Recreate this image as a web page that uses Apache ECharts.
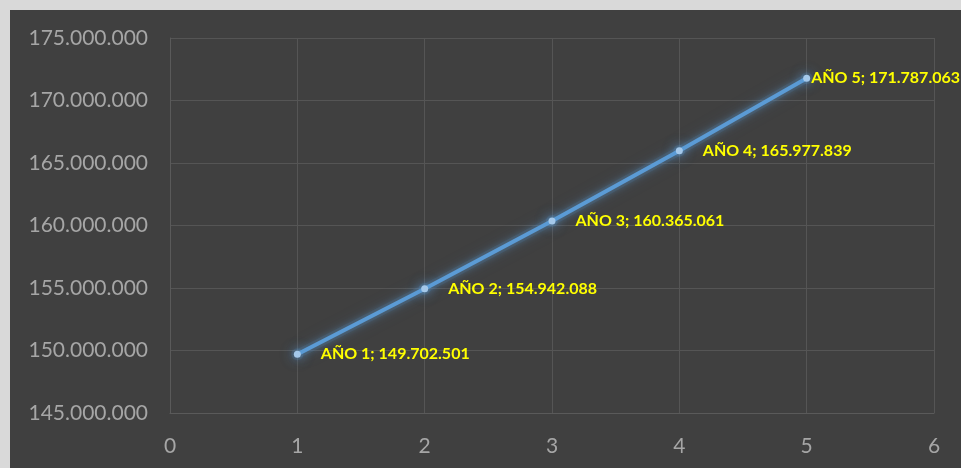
<!DOCTYPE html>
<html>
<head>
<meta charset="utf-8">
<script src="https://cdn.jsdelivr.net/npm/echarts@6/dist/echarts.min.js"></script>
<style>
  html, body { margin: 0; padding: 0; background: #d9d9d9; width: 961px; height: 468px; overflow: hidden; }
  #chart { position: absolute; left: 10px; top: 10px; width: 951px; height: 458px; background: #404040; }
</style>
</head>
<body>
<div id="chart"></div>
<script>
// Projected yearly totals
const years = [1, 2, 3, 4, 5];
const yearNames = ['AÑO 1', 'AÑO 2', 'AÑO 3', 'AÑO 4', 'AÑO 5'];
const totals = [149702501, 154942088, 160365061, 165977839, 171787063];

// Axis ranges
const xMin = 0, xMax = 6, xStep = 1;
const yMin = 145000000, yMax = 175000000, yStep = 5000000;

function fmtThousands(v) {
  return String(Math.round(v)).replace(/\B(?=(\d{3})+(?!\d))/g, '.');
}

const pairs = years.map((x, i) => [x, totals[i]]);
const points = pairs.map((v, i) => {
  const p = { value: v, name: yearNames[i] };
  if (i === years.length - 1) p.label = { distance: 1 };
  return p;
});

const chart = echarts.init(document.getElementById('chart'), null, { renderer: 'canvas' });
chart.setOption({
  backgroundColor: '#404040',
  animation: false,
  grid: { left: 160, right: 27, top: 28, bottom: 55 },
  xAxis: {
    type: 'value', min: xMin, max: xMax, interval: xStep,
    axisLine: { show: true, lineStyle: { color: '#5a5a5a', width: 1 } },
    axisTick: { show: false },
    splitLine: { show: true, lineStyle: { color: '#555555', width: 1 } },
    axisLabel: { color: '#a6a6a6', fontSize: 21, fontFamily: 'Lato', margin: 23 }
  },
  yAxis: {
    type: 'value', min: yMin, max: yMax, interval: yStep,
    axisLine: { show: true, lineStyle: { color: '#5a5a5a', width: 1 } },
    axisTick: { show: false },
    splitLine: { show: true, lineStyle: { color: '#555555', width: 1 } },
    axisLabel: { color: '#a6a6a6', fontSize: 21, fontFamily: 'Lato', margin: 22, formatter: fmtThousands }
  },
  series: [
    {
      // soft halo under the main line
      type: 'line',
      data: pairs,
      silent: true,
      symbol: 'circle',
      symbolSize: 12,
      z: 1,
      lineStyle: { color: 'rgba(91,155,213,0.12)', width: 9, shadowBlur: 18, shadowColor: 'rgba(91,155,213,0.7)' },
      itemStyle: { color: 'rgba(91,155,213,0.15)', shadowBlur: 18, shadowColor: 'rgba(91,155,213,0.8)' },
      label: { show: false },
      tooltip: { show: false }
    },
    {
      type: 'line',
      data: points,
      symbol: 'circle',
      symbolSize: 7,
      z: 2,
      lineStyle: { color: '#5b9bd5', width: 4, shadowBlur: 8, shadowColor: 'rgba(91,155,213,0.7)' },
      itemStyle: { color: '#a4c8ea', borderWidth: 0, shadowBlur: 12, shadowColor: 'rgba(91,155,213,1)' },
      label: {
        show: true,
        position: 'right',
        distance: 20,
        color: '#ffff00',
        fontWeight: 'bold',
        fontSize: 16,
        fontFamily: 'Lato',
        formatter: p => p.name + '; ' + fmtThousands(p.value[1])
      }
    }
  ]
});
</script>
</body>
</html>
